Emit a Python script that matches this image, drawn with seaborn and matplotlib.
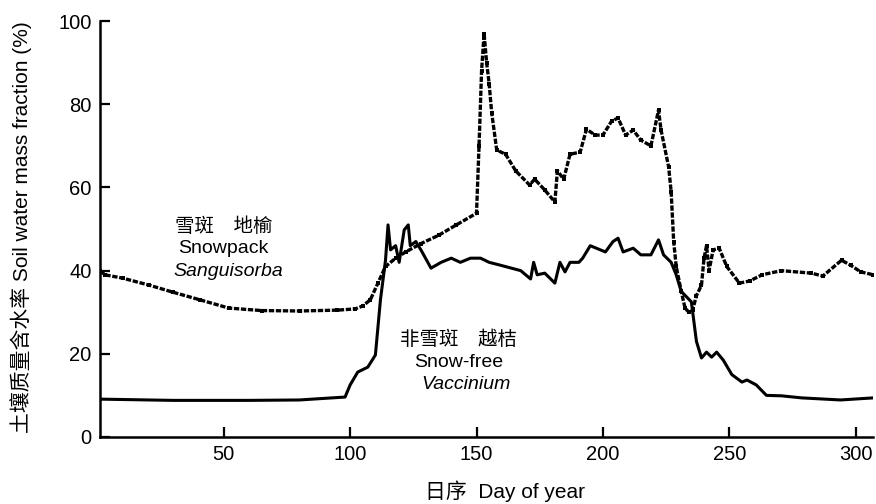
import matplotlib
matplotlib.use("Agg")
import matplotlib.pyplot as plt
import seaborn as sns
import pandas as pd

# Snowpack (Sanguisorba)
snow_day = [1, 3, 10, 20.6, 30, 40.5, 52, 65, 80, 95, 102, 105, 108, 111, 114, 118, 122, 128, 135, 142, 150,
            151, 152, 153, 154, 155, 156, 158, 161.5, 165.5, 171, 173, 177, 181, 182, 184.5, 187, 191, 193.5,
            197, 200, 203.5, 206, 209, 212, 215, 219, 222, 223, 226, 227, 228, 229, 231, 232.5, 234, 235.5,
            237, 239, 240, 241, 242, 243.6, 246, 249, 254, 258, 263, 270.6, 282.5, 287, 294.4, 298, 302, 307]
snow_val = [40.0, 39.0, 38.2, 36.5, 34.8, 33.0, 31.0, 30.4, 30.3, 30.5, 30.8, 31.5, 33.0, 37.0, 41.0, 43.0, 44.5,
            46.5, 48.5, 51.0, 53.8,
            70.0, 88.0, 97.0, 90.0, 85.0, 78.0, 69.0, 68.0, 64.0, 60.6, 62.0, 59.4, 56.5, 64.0, 62.0, 68.0, 68.5,
            74.0, 72.6, 72.6, 76.0, 76.7, 72.6, 73.8, 71.4, 70.0, 78.6, 73.8, 65.0, 59.0, 47.0, 41.0, 35.0, 31.0,
            30.0, 30.5, 34.0, 36.5, 43.0, 46.0, 40.0, 45.0, 45.4, 41.0, 37.0, 37.5, 39.0, 40.0, 39.4, 38.7, 42.5,
            41.3, 39.7, 39.0]

# Snow-free (Vaccinium)
free_day = [1, 30, 60, 80, 98, 100, 103, 107, 110, 112, 114, 115, 116, 118, 119.4, 121.4, 123, 123.8, 126, 128,
            132, 136, 140, 143.6, 147.6, 151.6, 155, 159.5, 167.5, 171.4, 172.6, 174, 177, 181, 183, 185, 187,
            190.5, 192, 195, 199, 201, 204, 206, 208, 212, 215, 219, 222, 224, 227, 229, 231, 235, 237, 239,
            241, 243, 245, 247.6, 251, 255, 257, 260.7, 264.7, 270.6, 278.6, 294, 307]
free_val = [9.1, 8.8, 8.8, 8.9, 9.6, 12.5, 15.6, 16.8, 19.7, 33.0, 42.5, 51.0, 45.0, 46.0, 42.0, 49.8, 51.0, 46.0,
            47.0, 45.0, 40.6, 42.0, 43.0, 42.0, 43.0, 43.0, 42.0, 41.3, 40.0, 38.0, 42.0, 39.0, 39.4, 37.0, 42.0,
            39.7, 42.0, 42.0, 43.0, 46.0, 45.0, 44.5, 47.0, 47.8, 44.5, 45.4, 43.8, 43.8, 47.4, 43.8, 42.0, 39.0,
            35.0, 32.5, 23.0, 19.0, 20.4, 19.2, 20.4, 18.5, 15.0, 13.2, 13.7, 12.5, 10.0, 9.9, 9.4, 8.9, 9.4]

x_ticks = [50, 100, 150, 200, 250, 300]
y_ticks = [0, 20, 40, 60, 80, 100]

sns.set_theme(style="ticks")
fam = ["Liberation Sans", "Noto Sans CJK SC"]
plt.rcParams["font.family"] = fam
plt.rcParams["text.color"] = "black"
plt.rcParams["axes.labelcolor"] = "black"

fig = plt.figure(figsize=(8.76, 5.04), dpi=100)
ax = fig.add_axes([0.114, 0.133, 0.883, 0.825])

df_snow = pd.DataFrame({"day": snow_day, "val": snow_val})
df_free = pd.DataFrame({"day": free_day, "val": free_val})

sns.lineplot(data=df_snow, x="day", y="val", ax=ax, color="black", linewidth=2.4,
             linestyle=(0, (1.6, 0.5)), marker="s", markersize=2.5, markeredgewidth=0)
sns.lineplot(data=df_free, x="day", y="val", ax=ax, color="black", linewidth=2.2)

ax.set_xlim(1, 307)
ax.set_ylim(0, 100)
ax.set_xticks(x_ticks)
ax.set_yticks(y_ticks)
ax.tick_params(direction="in", length=7, width=1.6, labelsize=14.5, colors="black", pad=6)
for s in ["top", "right"]:
    ax.spines[s].set_visible(False)
for s in ["left", "bottom"]:
    ax.spines[s].set_linewidth(1.8)
    ax.spines[s].set_color("black")

ax.set_xlabel("日序  Day of year", fontsize=15)
ax.set_ylabel("土壤质量含水率 Soil water mass fraction (%)", fontsize=15)
ax.xaxis.set_label_coords(0.524, -0.104)
ax.yaxis.set_label_coords(-0.088, 0.505)

ax.text(50, 50.5, "雪斑　地榆", fontsize=14, ha="center", va="center")
ax.text(50, 45.3, "Snowpack", fontsize=14, ha="center", va="center")
ax.text(52, 39.8, "Sanguisorba", fontsize=14, ha="center", va="center", style="italic")
ax.text(143, 23.5, "非雪斑　越桔", fontsize=14, ha="center", va="center")
ax.text(143, 18.0, "Snow-free", fontsize=14, ha="center", va="center")
ax.text(146, 12.5, "Vaccinium", fontsize=14, ha="center", va="center", style="italic")

fig.savefig("out.png", dpi=100)
